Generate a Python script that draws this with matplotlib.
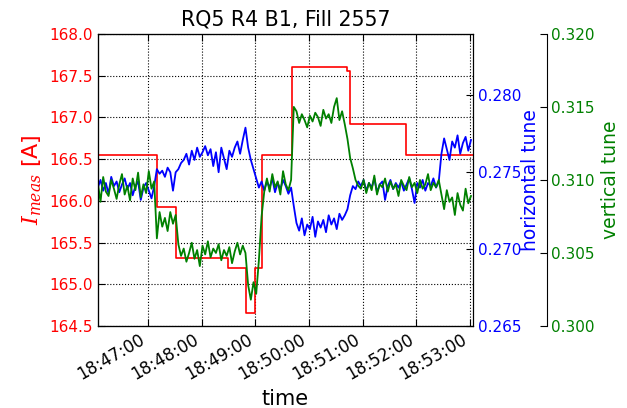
import matplotlib
matplotlib.use("Agg")
import matplotlib.pyplot as plt
import matplotlib.dates as mdates
import pandas as pd

# tune measurements, one every 3 s starting 18:46:04
tune_start = "2012-01-01 18:46:04"
h_tune = [0.2740, 0.2745, 0.2738, 0.2743, 0.2736, 0.2747, 0.2741, 0.2744, 0.2737, 0.2742, 0.2746,
          0.2739, 0.2743, 0.2735, 0.2741, 0.2744, 0.2732, 0.2740, 0.2743, 0.2738, 0.2733, 0.2741,
          0.2752, 0.2749, 0.2751, 0.2747, 0.2753, 0.2750, 0.2738, 0.2750, 0.2752, 0.2756,
          0.2758, 0.2762, 0.2755, 0.2764, 0.2758, 0.2766, 0.2760, 0.2763, 0.2767, 0.2761, 0.2765,
          0.2754, 0.2763, 0.2750, 0.2766, 0.2759, 0.2752, 0.2764, 0.2760, 0.2766, 0.2770, 0.2762,
          0.2771, 0.2779, 0.2766,
          0.2758, 0.2752, 0.2746, 0.2740, 0.2744,
          0.2738, 0.2744, 0.2740, 0.2746, 0.2737, 0.2743, 0.2739, 0.2745, 0.2741, 0.2736, 0.2740,
          0.2728, 0.2717, 0.2712, 0.2720, 0.2709, 0.2716, 0.2713, 0.2721, 0.2708, 0.2718, 0.2714,
          0.2719, 0.2711, 0.2722, 0.2716, 0.2720, 0.2713, 0.2723, 0.2719,
          0.2722, 0.2726, 0.2735, 0.2741, 0.2739, 0.2744,
          0.2741, 0.2745, 0.2738, 0.2743, 0.2740, 0.2746, 0.2737, 0.2742, 0.2744, 0.2732, 0.2741,
          0.2745, 0.2739, 0.2743, 0.2740, 0.2744, 0.2738, 0.2742, 0.2746, 0.2739, 0.2730, 0.2743,
          0.2740, 0.2745, 0.2738, 0.2743, 0.2741, 0.2746, 0.2740, 0.2744,
          0.2762, 0.2772, 0.2765, 0.2758, 0.2770, 0.2766, 0.2774, 0.2762, 0.2769, 0.2773, 0.2764, 0.2771]
v_tune = [0.3098, 0.3085, 0.3102, 0.3092, 0.3089, 0.3100, 0.3094, 0.3087, 0.3097, 0.3104, 0.3090,
          0.3096, 0.3086, 0.3101, 0.3093, 0.3105, 0.3088, 0.3097, 0.3091, 0.3106, 0.3094, 0.3099,
          0.3060, 0.3078, 0.3068, 0.3074, 0.3065, 0.3078, 0.3070, 0.3076,
          0.3056, 0.3048, 0.3053, 0.3044, 0.3050, 0.3057, 0.3046, 0.3052, 0.3041, 0.3055, 0.3049,
          0.3058, 0.3047, 0.3053, 0.3050, 0.3056, 0.3045, 0.3052, 0.3048, 0.3054, 0.3043, 0.3051,
          0.3057, 0.3049, 0.3055, 0.3050,
          0.3028, 0.3018, 0.3030, 0.3022,
          0.3045, 0.3075, 0.3092,
          0.3101, 0.3092, 0.3104, 0.3095, 0.3099, 0.3090, 0.3106, 0.3097, 0.3093, 0.3100,
          0.3150, 0.3147, 0.3139, 0.3145, 0.3141, 0.3136, 0.3144, 0.3140, 0.3146, 0.3143, 0.3137,
          0.3148, 0.3142, 0.3145, 0.3139, 0.3150, 0.3156, 0.3141, 0.3147,
          0.3138, 0.3128, 0.3115, 0.3108, 0.3100, 0.3096,
          0.3094, 0.3100, 0.3091, 0.3098, 0.3093, 0.3103, 0.3090, 0.3097, 0.3095, 0.3101, 0.3092,
          0.3099, 0.3094, 0.3097, 0.3089, 0.3100, 0.3096, 0.3093, 0.3102, 0.3095, 0.3098, 0.3091,
          0.3100, 0.3094, 0.3097, 0.3104, 0.3093, 0.3098, 0.3095, 0.3100,
          0.3090, 0.3080, 0.3093, 0.3085, 0.3088, 0.3076, 0.3091, 0.3083, 0.3079, 0.3094, 0.3084, 0.3089]

# magnet current setpoints (step changes)
i_times = ["18:46:04", "18:47:10", "18:47:31", "18:48:30", "18:48:50", "18:49:00", "18:49:07",
           "18:49:41", "18:50:43", "18:50:46", "18:51:48", "18:53:03"]
i_meas = [166.55, 165.92, 165.32, 165.2, 164.66, 165.2, 166.55, 167.6, 167.55, 166.92, 166.55, 166.55]

t_tune = pd.date_range(tune_start, periods=len(h_tune), freq="3s")
t_cur = pd.to_datetime(["2012-01-01 " + s for s in i_times])

plt.rcParams["font.family"] = "DejaVu Sans"
plt.rcParams["mathtext.fontset"] = "dejavuserif"
fig = plt.figure(figsize=(6.27, 4.08), dpi=100)
ax1 = fig.add_axes([0.156, 0.201, 0.598, 0.716])
ax2 = ax1.twinx()
ax3 = ax1.twinx()
ax3.spines["right"].set_position(("axes", 1.197))

ax1.plot(t_cur, i_meas, color="r", lw=1.2, drawstyle="steps-post")
ax2.plot(t_tune, h_tune, color="b", lw=1.3)
ax3.plot(t_tune, v_tune, color="g", lw=1.3)

ax1.set_ylim(164.5, 168.0)
ax1.set_yticks([164.5, 165.0, 165.5, 166.0, 166.5, 167.0, 167.5, 168.0])
ax1.yaxis.set_major_formatter(plt.FormatStrFormatter("%.1f"))
ax2.set_ylim(0.265, 0.284)
ax2.set_yticks([0.265, 0.270, 0.275, 0.280])
ax2.yaxis.set_major_formatter(plt.FormatStrFormatter("%.3f"))
ax3.set_ylim(0.300, 0.320)
ax3.set_yticks([0.300, 0.305, 0.310, 0.315, 0.320])
ax3.yaxis.set_major_formatter(plt.FormatStrFormatter("%.3f"))

ax1.set_xlim(pd.Timestamp("2012-01-01 18:46:04"), pd.Timestamp("2012-01-01 18:53:03"))
ax1.xaxis.set_major_locator(mdates.MinuteLocator())
ax1.xaxis.set_major_formatter(mdates.DateFormatter("%H:%M:%S"))
plt.setp(ax1.get_xticklabels(), rotation=30, ha="right")

ax1.grid(True, linestyle=":", color="k", lw=0.8)

for ax, c in [(ax1, "r"), (ax2, "b"), (ax3, "g")]:
    ax.tick_params(axis="y", colors=c, labelsize=11, direction="in", length=5)
    ax.tick_params(axis="y", which="both", color="k")
ax1.tick_params(axis="x", labelsize=12, direction="in", length=5, top=True)
ax1.tick_params(axis="y", right=False)

ax1.set_ylabel("$I_{meas}$ [A]", color="r", fontsize=16)
ax2.set_ylabel("horizontal tune", color="b", fontsize=13.5, labelpad=0)
ax3.set_ylabel("vertical tune", color="g", fontsize=13.5, labelpad=4)
ax1.set_xlabel("time", fontsize=15)
ax1.set_title("RQ5 R4 B1, Fill 2557", fontsize=14.8)

fig.savefig("out.png", dpi=100)
